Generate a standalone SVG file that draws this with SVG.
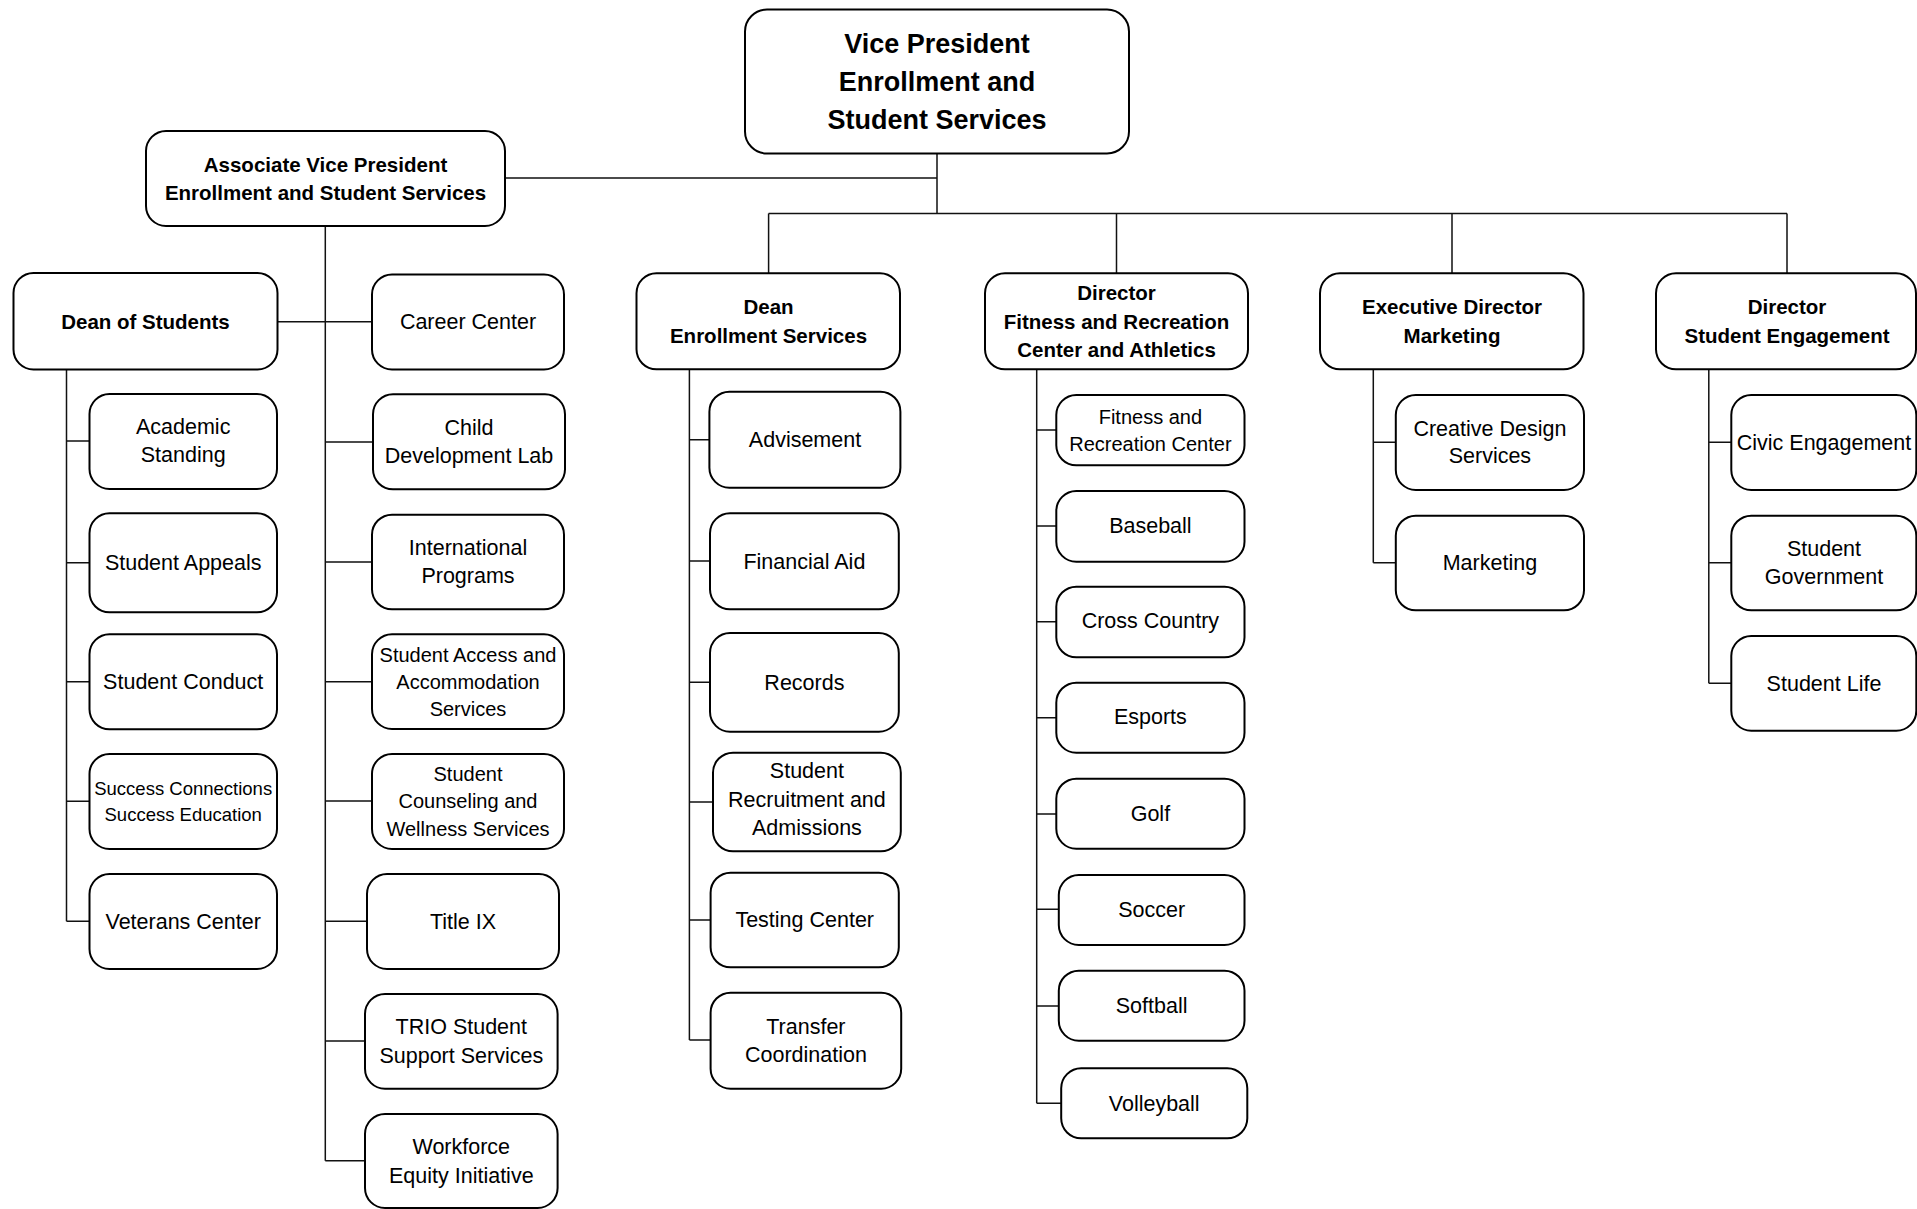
<svg xmlns="http://www.w3.org/2000/svg" width="1917" height="1209" viewBox="0 0 1917 1209">
  <style>
    .box{fill:#fff;stroke:#000;stroke-width:2}
    .ln{fill:none;stroke:#111;stroke-width:1.5}
    text{font-family:"Liberation Sans",Arial,sans-serif;fill:#000;text-anchor:middle}
    .vp{font-weight:bold;font-size:27px}
    .b{font-weight:bold;font-size:20.5px}
    .r{font-size:21.5px}
    .s{font-size:20px}
    .xs{font-size:18.5px}
  </style>
  <rect width="1917" height="1209" fill="#fff"/>

  <!-- reporting lines -->
  <g id="connectors" class="ln">
    <!-- VP down to the bus, AVP tie-in -->
    <path d="M937 153.5V213.5M505 178H937M768.6 213.5H1787M768.6 213.5V273.3M1116.5 213.5V273.3M1452 213.5V273.3M1787 213.5V273.3"/>
    <!-- Associate VP branch -->
    <path d="M325.3 226V1160.7M277 321.7H372M325.3 442H373M325.3 562H372M325.3 681.7H372M325.3 801H372M325.3 921.3H367M325.3 1041H365M325.3 1160.7H365"/>
    <!-- Dean of Students branch -->
    <path d="M66.5 369.5V921.3M66.5 441H89.5M66.5 562.7H89.5M66.5 681.7H89.5M66.5 801.3H89.5M66.5 921.3H89.5"/>
    <!-- Enrollment Services branch -->
    <path d="M689.4 369.3V1040M689.4 439.7H709.4M689.4 561H710M689.4 682.3H710M689.4 802H713M689.4 920H710.6M689.4 1040H710.6"/>
    <!-- Fitness and Athletics branch -->
    <path d="M1036.7 369.3V1103.3M1036.7 430H1056.3M1036.7 526H1056.3M1036.7 621.7H1056.3M1036.7 717.7H1056.3M1036.7 814H1056.3M1036.7 909.3H1058.8M1036.7 1006H1058.8M1036.7 1103.3H1061.2"/>
    <!-- Marketing branch -->
    <path d="M1373.3 369.3V562.7M1373.3 442.3H1395.8M1373.3 562.7H1395.8"/>
    <!-- Student Engagement branch -->
    <path d="M1708.8 369.3V683.3M1708.8 442.3H1731.3M1708.8 562.7H1731.3M1708.8 683.3H1731.3"/>
  </g>

  <!-- top level -->
  <g id="vp">
    <rect class="box" x="745" y="9.5" width="384" height="144" rx="22"/>
    <text class="vp" x="937" y="52.7">Vice President</text>
    <text class="vp" x="937" y="90.7">Enrollment and</text>
    <text class="vp" x="937" y="129.3">Student Services</text>
  </g>
  <g id="avp">
    <rect class="box" x="146" y="131" width="359" height="95" rx="20"/>
    <text class="b" x="325.5" y="171.7">Associate Vice President</text>
    <text class="b" x="325.5" y="200">Enrollment and Student Services</text>
  </g>

  <!-- second level -->
  <g id="dean-students">
    <rect class="box" x="13.5" y="273" width="264" height="96.5" rx="20"/>
    <text class="b" x="145.5" y="329">Dean of Students</text>
  </g>
  <g id="dean-enrollment">
    <rect class="box" x="636.5" y="273.3" width="263.5" height="96" rx="20"/>
    <text class="b" x="768.5" y="314">Dean</text>
    <text class="b" x="768.5" y="342.7">Enrollment Services</text>
  </g>
  <g id="dir-fitness">
    <rect class="box" x="985" y="273.3" width="263" height="96" rx="20"/>
    <text class="b" x="1116.5" y="300">Director</text>
    <text class="b" x="1116.5" y="329">Fitness and Recreation</text>
    <text class="b" x="1116.5" y="357.3">Center and Athletics</text>
  </g>
  <g id="exec-marketing">
    <rect class="box" x="1320" y="273.3" width="263.5" height="96" rx="20"/>
    <text class="b" x="1452" y="314">Executive Director</text>
    <text class="b" x="1452" y="342.7">Marketing</text>
  </g>
  <g id="dir-engagement">
    <rect class="box" x="1656" y="273.3" width="260" height="96" rx="20"/>
    <text class="b" x="1787" y="314">Director</text>
    <text class="b" x="1787" y="342.7">Student Engagement</text>
  </g>

  <!-- Dean of Students units -->
  <g id="academic-standing">
    <rect class="box" x="89.5" y="394" width="187.5" height="95" rx="20"/>
    <text class="r" x="183.2" y="434">Academic</text>
    <text class="r" x="183.2" y="462.3">Standing</text>
  </g>
  <g id="student-appeals">
    <rect class="box" x="89.5" y="513.3" width="187.5" height="99" rx="20"/>
    <text class="r" x="183.2" y="570">Student Appeals</text>
  </g>
  <g id="student-conduct">
    <rect class="box" x="89.5" y="634.3" width="187.5" height="95" rx="20"/>
    <text class="r" x="183.2" y="689">Student Conduct</text>
  </g>
  <g id="success-connections">
    <rect class="box" x="89.5" y="754" width="187.5" height="95" rx="20"/>
    <text class="xs" x="183.2" y="795">Success Connections</text>
    <text class="xs" x="183.2" y="821">Success Education</text>
  </g>
  <g id="veterans-center">
    <rect class="box" x="89.5" y="874" width="187.5" height="95" rx="20"/>
    <text class="r" x="183.2" y="929">Veterans Center</text>
  </g>

  <!-- Associate VP units -->
  <g id="career-center">
    <rect class="box" x="372" y="274.5" width="192" height="95" rx="20"/>
    <text class="r" x="468" y="329">Career Center</text>
  </g>
  <g id="child-development">
    <rect class="box" x="373" y="394.3" width="192" height="95" rx="20"/>
    <text class="r" x="469" y="435">Child</text>
    <text class="r" x="469" y="463.3">Development Lab</text>
  </g>
  <g id="international-programs">
    <rect class="box" x="372" y="514.7" width="192" height="94.6" rx="20"/>
    <text class="r" x="468" y="555">International</text>
    <text class="r" x="468" y="583.3">Programs</text>
  </g>
  <g id="student-access">
    <rect class="box" x="372" y="634.3" width="192" height="94.7" rx="20"/>
    <text class="s" x="468" y="661.7">Student Access and</text>
    <text class="s" x="468" y="689.3">Accommodation</text>
    <text class="s" x="468" y="716">Services</text>
  </g>
  <g id="student-counseling">
    <rect class="box" x="372" y="754" width="192" height="95" rx="20"/>
    <text class="s" x="468" y="781">Student</text>
    <text class="s" x="468" y="808.3">Counseling and</text>
    <text class="s" x="468" y="835.7">Wellness Services</text>
  </g>
  <g id="title-ix">
    <rect class="box" x="367" y="874" width="192" height="95" rx="20"/>
    <text class="r" x="463" y="929">Title IX</text>
  </g>
  <g id="trio">
    <rect class="box" x="365" y="994" width="192.6" height="94.7" rx="20"/>
    <text class="r" x="461.3" y="1034.3">TRIO Student</text>
    <text class="r" x="461.3" y="1062.7">Support Services</text>
  </g>
  <g id="workforce-equity">
    <rect class="box" x="365" y="1114" width="192.6" height="94" rx="20"/>
    <text class="r" x="461.3" y="1154">Workforce</text>
    <text class="r" x="461.3" y="1182.7">Equity Initiative</text>
  </g>

  <!-- Enrollment Services units -->
  <g id="advisement">
    <rect class="box" x="709.4" y="391.7" width="191" height="96" rx="20"/>
    <text class="r" x="805" y="446.7">Advisement</text>
  </g>
  <g id="financial-aid">
    <rect class="box" x="710" y="513.3" width="188.8" height="96" rx="20"/>
    <text class="r" x="804.4" y="569">Financial Aid</text>
  </g>
  <g id="records">
    <rect class="box" x="710" y="633" width="188.8" height="98.7" rx="20"/>
    <text class="r" x="804.4" y="690">Records</text>
  </g>
  <g id="recruitment">
    <rect class="box" x="713" y="752.7" width="187.8" height="98.6" rx="20"/>
    <text class="r" x="806.9" y="778.3">Student</text>
    <text class="r" x="806.9" y="806.7">Recruitment and</text>
    <text class="r" x="806.9" y="835">Admissions</text>
  </g>
  <g id="testing-center">
    <rect class="box" x="710.6" y="872.7" width="188.2" height="94.6" rx="20"/>
    <text class="r" x="804.7" y="926.7">Testing Center</text>
  </g>
  <g id="transfer">
    <rect class="box" x="710.6" y="992.7" width="190.6" height="96" rx="20"/>
    <text class="r" x="805.9" y="1034">Transfer</text>
    <text class="r" x="805.9" y="1061.7">Coordination</text>
  </g>

  <!-- Fitness, Recreation and Athletics units -->
  <g id="fitness-center">
    <rect class="box" x="1056.3" y="395" width="188.2" height="70.3" rx="20"/>
    <text class="s" x="1150.4" y="424.3">Fitness and</text>
    <text class="s" x="1150.4" y="450.7">Recreation Center</text>
  </g>
  <g id="baseball">
    <rect class="box" x="1056.3" y="491" width="188.2" height="70.7" rx="20"/>
    <text class="r" x="1150.4" y="532.7">Baseball</text>
  </g>
  <g id="cross-country">
    <rect class="box" x="1056.3" y="586.7" width="188.2" height="70.6" rx="20"/>
    <text class="r" x="1150.4" y="628.3">Cross Country</text>
  </g>
  <g id="esports">
    <rect class="box" x="1056.3" y="682.7" width="188.2" height="70" rx="20"/>
    <text class="r" x="1150.4" y="724.3">Esports</text>
  </g>
  <g id="golf">
    <rect class="box" x="1056.3" y="778.7" width="188.2" height="70" rx="20"/>
    <text class="r" x="1150.4" y="820.7">Golf</text>
  </g>
  <g id="soccer">
    <rect class="box" x="1058.8" y="875" width="185.7" height="70" rx="20"/>
    <text class="r" x="1151.6" y="916.7">Soccer</text>
  </g>
  <g id="softball">
    <rect class="box" x="1058.8" y="970.7" width="185.7" height="70" rx="20"/>
    <text class="r" x="1151.6" y="1012.7">Softball</text>
  </g>
  <g id="volleyball">
    <rect class="box" x="1061.2" y="1068.3" width="186.1" height="70" rx="20"/>
    <text class="r" x="1154.2" y="1110.7">Volleyball</text>
  </g>

  <!-- Marketing units -->
  <g id="creative-design">
    <rect class="box" x="1395.8" y="395" width="188.2" height="95" rx="20"/>
    <text class="r" x="1489.9" y="436">Creative Design</text>
    <text class="r" x="1489.9" y="463.3">Services</text>
  </g>
  <g id="marketing">
    <rect class="box" x="1395.8" y="515.7" width="188.2" height="94.6" rx="20"/>
    <text class="r" x="1489.9" y="570">Marketing</text>
  </g>

  <!-- Student Engagement units -->
  <g id="civic-engagement">
    <rect class="box" x="1731.3" y="395" width="185" height="95" rx="20"/>
    <text class="r" x="1824" y="450">Civic Engagement</text>
  </g>
  <g id="student-government">
    <rect class="box" x="1731.3" y="515.7" width="185" height="94.6" rx="20"/>
    <text class="r" x="1824" y="556">Student</text>
    <text class="r" x="1824" y="584">Government</text>
  </g>
  <g id="student-life">
    <rect class="box" x="1731.3" y="636" width="185" height="94.7" rx="20"/>
    <text class="r" x="1824" y="690.7">Student Life</text>
  </g>
</svg>
